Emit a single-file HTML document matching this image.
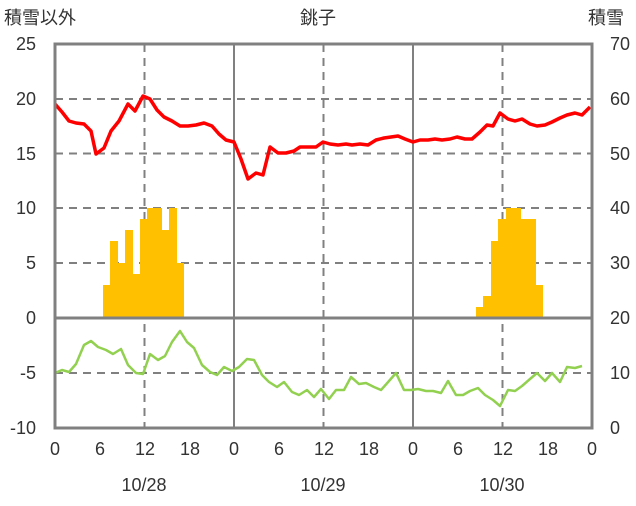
<!DOCTYPE html>
<html><head><meta charset="utf-8"><style>
body{margin:0;background:#fff}
svg text{font-family:"Liberation Sans","Noto Sans CJK JP",sans-serif;fill:#333;font-size:18px}
</style></head><body>
<svg width="636" height="501" xmlns="http://www.w3.org/2000/svg">
<rect width="636" height="501" fill="#fff"/>
<g stroke="#808080" stroke-width="2" stroke-dasharray="8,6">
<line x1="55" y1="99" x2="592" y2="99"/><line x1="55" y1="153.5" x2="592" y2="153.5"/>
<line x1="55" y1="208" x2="592" y2="208"/><line x1="55" y1="263" x2="592" y2="263"/>
<line x1="55" y1="373" x2="592" y2="373"/>
<line x1="144.5" y1="44" x2="144.5" y2="428"/><line x1="323.5" y1="44" x2="323.5" y2="428"/><line x1="502.5" y1="44" x2="502.5" y2="428"/>
</g>
<g stroke="#808080" stroke-width="2"><line x1="234" y1="44" x2="234" y2="428"/><line x1="413" y1="44" x2="413" y2="428"/></g>
<g fill="#FFC000">
<rect x="103" y="285" width="8" height="33"/><rect x="110" y="241" width="8" height="77"/><rect x="117" y="263" width="8" height="55"/><rect x="125" y="230" width="8" height="88"/><rect x="132" y="274" width="8" height="44"/><rect x="140" y="219" width="8" height="99"/><rect x="147" y="208" width="8" height="110"/><rect x="154" y="208" width="8" height="110"/><rect x="162" y="230" width="8" height="88"/><rect x="169" y="208" width="8" height="110"/><rect x="177" y="263" width="7" height="55"/>
<rect x="476" y="307" width="8" height="11"/><rect x="483" y="296" width="8" height="22"/><rect x="491" y="241" width="8" height="77"/><rect x="498" y="219" width="8" height="99"/><rect x="506" y="208" width="8" height="110"/><rect x="513" y="208" width="8" height="110"/><rect x="521" y="219" width="8" height="99"/><rect x="528" y="219" width="8" height="99"/><rect x="536" y="285" width="7" height="33"/>
</g>
<line x1="55" y1="318" x2="592" y2="318" stroke="#808080" stroke-width="3"/>
<polyline fill="none" stroke="#FF0000" stroke-width="3.5" stroke-linejoin="round" points="55,104 62,112 69,121 76,123 84,124 91,131 96,154 104,148 111,131 119,121 128,104 135,111 143,96 150,99 157,110 164,117 172,121 180,126 188,126 196,125 204,123 212,126 219,134 226,140 234,142 241,159 248,179 256,173 263,175 270,147 278,153 286,153 294,151 300,147 308,147 316,147 323,142 330,144 338,145 346,144 352,145 360,144 368,145 376,140 384,138 391,137 398,136 405,139 413,142 420,140 428,140 435,139 442,140 450,139 457,137 465,139 472,139 480,132 487,125 493,126 500,113 508,119 515,121 522,119 530,124 537,126 545,125 552,122 560,118 567,115 575,113 582,115 590,107"/>
<polyline fill="none" stroke="#92D050" stroke-width="2.5" stroke-linejoin="round" points="55,373 62,370 69,372 76,364 84,345 91,341 98,347 106,350 113,354 121,349 128,365 136,373 143,374 150,354 158,360 165,356 172,342 180,331 187,342 194,348 202,365 210,372 217,375 224,367 232,371 239,367 247,359 254,360 262,375 269,382 277,387 284,382 292,392 299,395 307,390 314,397 321,389 329,399 336,390 344,390 351,377 359,384 366,383 374,387 381,390 389,381 396,373 404,390 411,390 418,389 426,391 433,391 441,393 448,381 456,395 463,395 470,391 478,388 485,395 493,400 500,406 508,390 515,391 522,386 530,379 537,373 545,381 552,373 560,382 567,367 575,368 582,366"/>
<rect x="55" y="44" width="537" height="384" fill="none" stroke="#808080" stroke-width="3"/>
<g text-anchor="end">
<text x="36" y="50">25</text><text x="36" y="105">20</text><text x="36" y="160">15</text><text x="36" y="214">10</text><text x="36" y="269">5</text><text x="36" y="324">0</text><text x="36" y="379">-5</text><text x="36" y="434">-10</text>
</g>
<g text-anchor="start">
<text x="610" y="50">70</text><text x="610" y="105">60</text><text x="610" y="160">50</text><text x="610" y="214">40</text><text x="610" y="269">30</text><text x="610" y="324">20</text><text x="610" y="379">10</text><text x="610" y="434">0</text>
</g>
<g text-anchor="middle">
<text x="55" y="455">0</text><text x="100" y="455">6</text><text x="145" y="455">12</text><text x="190" y="455">18</text><text x="234" y="455">0</text><text x="279" y="455">6</text><text x="324" y="455">12</text><text x="369" y="455">18</text><text x="413" y="455">0</text><text x="458" y="455">6</text><text x="503" y="455">12</text><text x="548" y="455">18</text><text x="592" y="455">0</text>
<text x="144" y="491">10/28</text><text x="323" y="491">10/29</text><text x="502" y="491">10/30</text>
<text x="318" y="24">銚子</text>
</g>
<text x="4" y="24">積雪以外</text>
<text x="588" y="24">積雪</text>
</svg>
</body></html>
